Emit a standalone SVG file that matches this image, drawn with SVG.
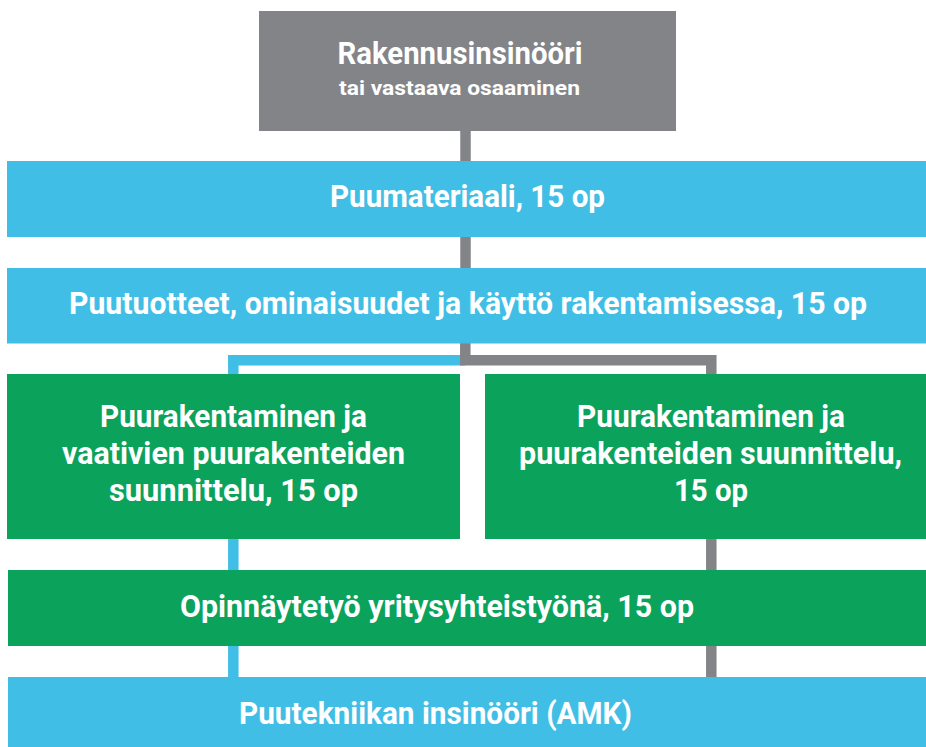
<svg xmlns="http://www.w3.org/2000/svg" width="926" height="747" viewBox="0 0 926 747">
  <style>
    .blue { fill: #41BEE5; }
    .green { fill: #0BA25C; }
    .gray { fill: #838488; }
    .t { fill: #FFFFFF; font-family: Roboto, "Liberation Sans", sans-serif; font-weight: bold; text-anchor: middle; }
    .big { font-size: 31px; }
    .small { font-size: 21px; }
    .cb { stroke: #41BEE5; stroke-width: 10.5; fill: none; }
    .cg { stroke: #838488; stroke-width: 10.5; fill: none; }
  </style>
  <rect width="926" height="747" fill="#FFFFFF"/>
  <g id="connectors">
    <path class="cg" d="M465.5,130 V161"/>
    <path class="cg" d="M465.5,236 V269"/>
    <path class="cb" d="M233.3,375 V360.2 H465"/>
    <path class="cg" d="M465.3,342 V360.2 H711.3 V375"/>
    <path class="cb" d="M233.3,538 V571"/>
    <path class="cb" d="M233.3,645 V678"/>
    <path class="cg" d="M711.3,538 V571"/>
    <path class="cg" d="M711.3,645 V678"/>
  </g>
  <g id="node-rakennusinsinoori">
    <rect class="gray" x="259" y="11" width="417" height="120"/>
    <text class="t big" x="460" y="63.5" textLength="245" lengthAdjust="spacingAndGlyphs">Rakennusinsinööri</text>
    <text class="t small" x="459.5" y="95" textLength="241" lengthAdjust="spacingAndGlyphs">tai vastaava osaaminen</text>
  </g>
  <g id="node-puumateriaali">
    <rect class="blue" x="7" y="161" width="919" height="76"/>
    <text class="t big" x="467.5" y="206.7" textLength="275" lengthAdjust="spacingAndGlyphs">Puumateriaali, 15 op</text>
  </g>
  <g id="node-puutuotteet">
    <rect class="blue" x="7" y="268" width="919" height="75.5"/>
    <text class="t big" x="468" y="314.3" textLength="798" lengthAdjust="spacingAndGlyphs">Puutuotteet, ominaisuudet ja käyttö rakentamisessa, 15 op</text>
  </g>
  <g id="node-vaativat">
    <rect class="green" x="7" y="374" width="453" height="165"/>
    <text class="t big" x="233.5" y="427" textLength="267" lengthAdjust="spacingAndGlyphs">Puurakentaminen ja</text>
    <text class="t big" x="233.5" y="464" textLength="343" lengthAdjust="spacingAndGlyphs">vaativien puurakenteiden</text>
    <text class="t big" x="233.5" y="501" textLength="249" lengthAdjust="spacingAndGlyphs">suunnittelu, 15 op</text>
  </g>
  <g id="node-suunnittelu">
    <rect class="green" x="485" y="374" width="441" height="165"/>
    <text class="t big" x="711" y="427" textLength="268" lengthAdjust="spacingAndGlyphs">Puurakentaminen ja</text>
    <text class="t big" x="710.5" y="464" textLength="383" lengthAdjust="spacingAndGlyphs">puurakenteiden suunnittelu,</text>
    <text class="t big" x="711" y="501" textLength="74" lengthAdjust="spacingAndGlyphs">15 op</text>
  </g>
  <g id="node-opinnaytetyo">
    <rect class="green" x="8" y="570" width="918" height="76"/>
    <text class="t big" x="437" y="617.3" textLength="514" lengthAdjust="spacingAndGlyphs">Opinnäytetyö yritysyhteistyönä, 15 op</text>
  </g>
  <g id="node-puutekniikan">
    <rect class="blue" x="8" y="677" width="918" height="70"/>
    <text class="t big" x="435.5" y="724" textLength="393" lengthAdjust="spacingAndGlyphs">Puutekniikan insinööri (AMK)</text>
  </g>
</svg>
